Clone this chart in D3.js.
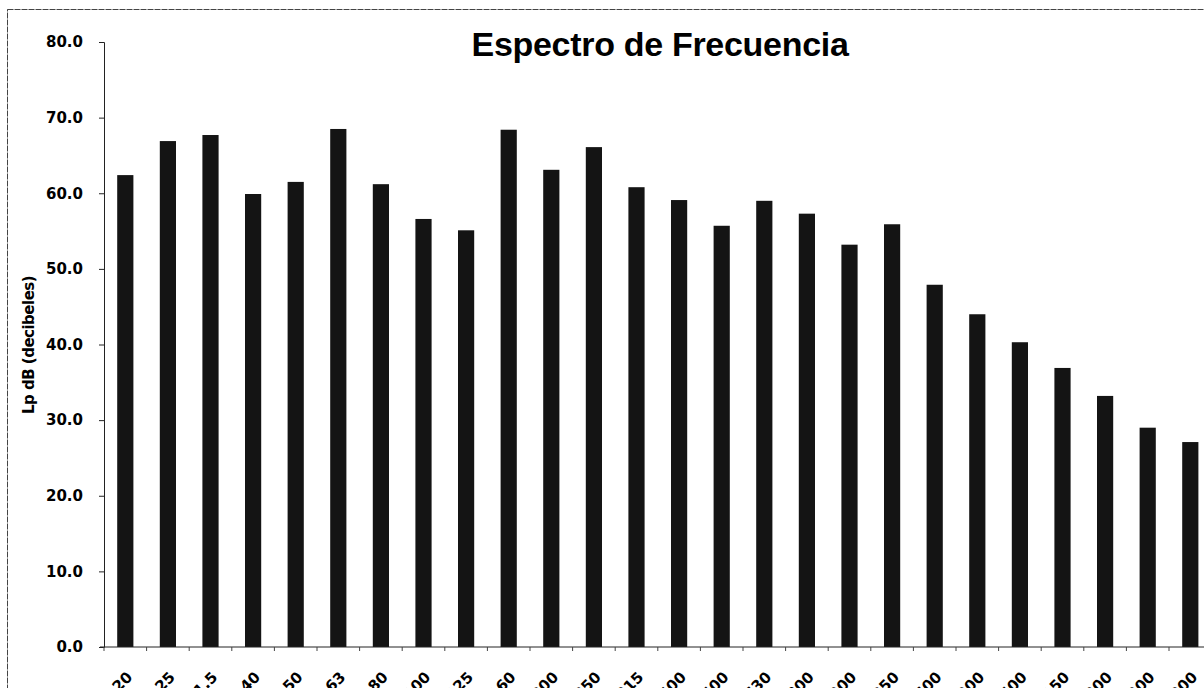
<!DOCTYPE html>
<html>
<head>
<meta charset="utf-8">
<script src="https://cdn.jsdelivr.net/npm/d3@7"></script>
<style>
  body { margin: 0; background: #fff; }
  svg { display: block; font-family: "Liberation Sans", Arial, sans-serif; }
</style>
</head>
<body>
<div id="canvas"></div>
<script>
// Data
var frequencies = ["20", "25", "31.5", "40", "50", "63", "80", "100", "125", "160", "200", "250", "315",
    "400", "500", "630", "800", "1000", "1250", "1600", "2000", "2500", "3150", "4000", "5000", "6300"];
var levels = [62.4, 66.9, 67.7, 59.9, 61.5, 68.5, 61.2, 56.6, 55.1, 68.4, 63.1, 66.1, 60.8,
    59.1, 55.7, 59.0, 57.3, 53.2, 55.9, 47.9, 44.0, 40.3, 36.9, 33.2, 29.0, 27.1];
var yTicks = [0, 10, 20, 30, 40, 50, 60, 70, 80];

var w = 1204, h = 688;
var margin = {top: 42, left: 104, bottom: 41};
var bandW = 42.6;
var tickFont = "'DejaVu Sans', sans-serif";

var svg = d3.select("#canvas")
    .append("svg")
    .attr("width", w)
    .attr("height", h);

// outer chart border
svg.append("rect")
    .attr("x", 7.5).attr("y", 9.5)
    .attr("width", w + 10).attr("height", h + 10)
    .attr("fill", "none")
    .attr("stroke", "#444")
    .attr("stroke-width", 1)
    .attr("stroke-dasharray", "6,1");

var x_scale = d3.scaleBand()
    .domain(frequencies)
    .range([margin.left, margin.left + bandW * frequencies.length])
    .padding(0);

var y_scale = d3.scaleLinear()
    .domain([0, 80])
    .range([h - margin.bottom, margin.top]);

var barW = x_scale.bandwidth() * 0.38;

// bars
svg.selectAll(".bar")
    .data(levels)
    .join("rect")
    .attr("class", "bar")
    .attr("x", (d, i) => x_scale(frequencies[i]) + (x_scale.bandwidth() - barW) / 2)
    .attr("y", d => y_scale(d))
    .attr("width", barW)
    .attr("height", d => y_scale(0) - y_scale(d))
    .attr("fill", "#141414");

// y axis
var yAxis = svg.append("g")
    .attr("transform", `translate(${margin.left},0)`)
    .call(d3.axisLeft(y_scale).tickValues(yTicks).tickFormat(d3.format(".1f")).tickSize(5).tickPadding(16));
yAxis.select(".domain").attr("stroke", "#222");
yAxis.selectAll(".tick line").attr("stroke", "#222");
yAxis.selectAll("text")
    .style("font-family", tickFont)
    .style("font-size", "15px")
    .style("font-weight", "bold")
    .attr("fill", "#000");

// x axis
var xAxis = svg.append("g")
    .attr("transform", `translate(0,${y_scale(0)})`);
xAxis.append("line")
    .attr("x1", margin.left - 4).attr("x2", w)
    .attr("stroke", "#222");
xAxis.selectAll(".xtick")
    .data(frequencies)
    .join("line")
    .attr("class", "xtick")
    .attr("x1", d => x_scale(d)).attr("x2", d => x_scale(d))
    .attr("y1", 0).attr("y2", 4)
    .attr("stroke", "#444");
xAxis.selectAll(".xlabel")
    .data(frequencies)
    .join("text")
    .attr("class", "xlabel")
    .attr("text-anchor", "end")
    .attr("transform", d => `translate(${x_scale(d) + x_scale.bandwidth() / 2 + 8},${31}) rotate(-45)`)
    .style("font-family", tickFont)
    .style("font-size", "15px")
    .style("font-weight", "bold")
    .attr("fill", "#000")
    .text(d => d);

// title
svg.append("text")
    .attr("x", 660)
    .attr("y", 56)
    .attr("text-anchor", "middle")
    .style("font-size", "34px")
    .style("font-weight", "bold")
    .style("letter-spacing", "-0.3px")
    .attr("fill", "#000")
    .text("Espectro de Frecuencia");

// y axis label
svg.append("text")
    .attr("transform", "rotate(-90)")
    .attr("x", -345)
    .attr("y", 34)
    .attr("text-anchor", "middle")
    .style("font-family", tickFont)
    .style("font-size", "15px")
    .style("font-weight", "bold")
    .style("letter-spacing", "-0.5px")
    .attr("fill", "#000")
    .text("Lp dB (decibeles)");
</script>
</body>
</html>
